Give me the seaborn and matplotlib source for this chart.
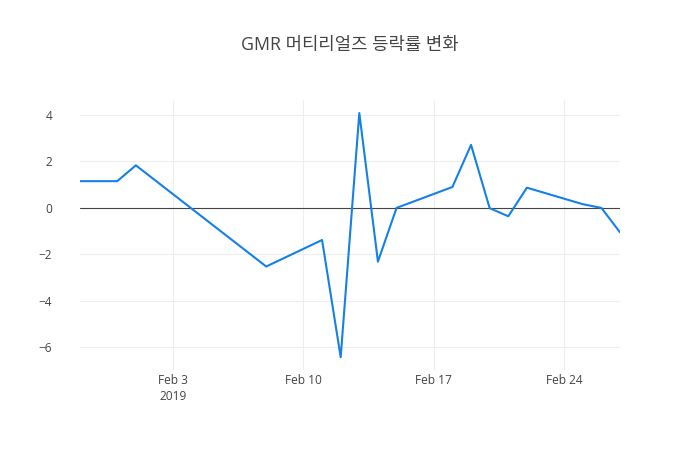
"""GMR 머티리얼즈 등락률 변화 - 일별 등락률 선 그래프"""

import matplotlib

matplotlib.use("Agg")

import matplotlib.pyplot as plt
import pandas as pd
import seaborn as sns


DATES = [
    "2019-01-29", "2019-01-31", "2019-02-01", "2019-02-08", "2019-02-11",
    "2019-02-12", "2019-02-13", "2019-02-14", "2019-02-15", "2019-02-18",
    "2019-02-19", "2019-02-20", "2019-02-21", "2019-02-22", "2019-02-25",
    "2019-02-26", "2019-02-27",
]
CHANGE_PCT = [
    1.15, 1.15, 1.83, -2.52, -1.38,
    -6.42, 4.08, -2.31, 0.0, 0.90,
    2.71, -0.01, -0.36, 0.87, 0.16,
    0.0, -1.05,
]
TITLE = "GMR 머티리얼즈 등락률 변화"
X_TICKS = ["2019-02-03", "2019-02-10", "2019-02-17", "2019-02-24"]
X_TICK_LABELS = ["Feb 3\n2019", "Feb 10", "Feb 17", "Feb 24"]
Y_TICKS = [-6, -4, -2, 0, 2, 4]

LINE_COLOR = "#1580e8"
TEXT_COLOR = "#444444"
FONTS = ["Open Sans", "Noto Sans CJK KR", "DejaVu Sans"]


def main() -> None:
    sns.set_theme(style="white")
    plt.rcParams["font.family"] = FONTS

    df = pd.DataFrame({"date": pd.to_datetime(DATES), "change": CHANGE_PCT})

    fig = plt.figure(figsize=(7, 4.5), dpi=100)
    ax = fig.add_axes([80 / 700, 80 / 450, 540 / 700, 270 / 450])

    # 그리드와 0 기준선
    for t in pd.to_datetime(X_TICKS):
        ax.axvline(t, color="#eeeeee", linewidth=0.8, zorder=0)
    for v in Y_TICKS:
        if v != 0:
            ax.axhline(v, color="#eeeeee", linewidth=0.8, zorder=0)
    ax.axhline(0, color=TEXT_COLOR, linewidth=0.8, zorder=1)

    sns.lineplot(data=df, x="date", y="change", color=LINE_COLOR,
                 linewidth=1.5, ax=ax, zorder=2)

    ax.set_xlim(df["date"].min(), df["date"].max())
    ax.set_ylim(-6.97, 4.64)
    ax.set_xticks(pd.to_datetime(X_TICKS))
    ax.set_xticklabels(X_TICK_LABELS)
    ax.set_yticks(Y_TICKS)
    ax.set_yticklabels([str(v).replace("-", "\u2212") for v in Y_TICKS])
    ax.tick_params(axis="x", length=0, pad=3, labelsize=8.6, colors=TEXT_COLOR)
    ax.tick_params(axis="y", length=0, pad=20, labelsize=8.6, colors=TEXT_COLOR)
    for label in ax.get_xticklabels():
        label.set_linespacing(1.25)
    ax.set_xlabel("")
    ax.set_ylabel("")
    for spine in ax.spines.values():
        spine.set_visible(False)

    fig.text(0.5, 1 - 45 / 450, TITLE, ha="center", va="center",
             fontsize=12.8, color=TEXT_COLOR)

    fig.savefig("out.png", dpi=100, facecolor="white")
    plt.close(fig)


if __name__ == "__main__":
    main()
